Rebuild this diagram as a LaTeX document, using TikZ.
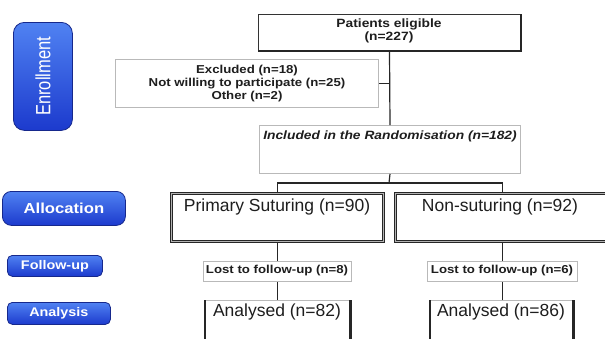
\documentclass[tikz,border=0pt]{standalone}
\usepackage{fontspec}
\usepackage{graphicx}
\setmainfont{Liberation Sans}
\newfontfamily\wf[FakeStretch=1.15]{Liberation Sans}
\definecolor{blueTop}{RGB}{80,130,242}
\definecolor{blueBot}{RGB}{28,58,205}
\definecolor{blueEdge}{RGB}{22,40,140}
\definecolor{txt}{RGB}{30,30,30}
\begin{document}
\begin{tikzpicture}[x=1pt,y=-1pt,
  conn/.style={draw=black!85,line width=1.2pt},
  lbl/.style={draw=blueEdge,line width=0.8pt,rounded corners=7pt,top color=blueTop,bottom color=blueBot,text=white,inner sep=0pt,anchor=north west},
  thinbox/.style={draw=gray!55,line width=1pt,fill=white,inner sep=0pt,anchor=north west},
  dblbox/.style={draw=black!85,double=gray!60,double distance=1.6pt,line width=0.9pt,fill=white,inner sep=0pt,anchor=north west},
  plainbox/.style={inner sep=0pt,anchor=north west},
  smalltxt/.style={font=\wf\bfseries\fontsize{11.5}{13}\selectfont,text=txt,align=center,inner sep=0pt},
  bigtxt/.style={font=\fontsize{17.5}{20}\selectfont,text=txt,inner sep=0pt}
]
\useasboundingbox (0,0) rectangle (605,338);
\clip (0,0) rectangle (605,338);
\fill[white] (0,0) rectangle (605,338);

% left phase labels
\node[lbl,minimum width=59pt,minimum height=108pt,rounded corners=11pt] (enr) at (13,22)
  {\rotatebox{90}{\scalebox{1}[1.25]{\fontsize{16.5}{18}\selectfont Enrollment}}};
\node[lbl,minimum width=123pt,minimum height=34pt,rounded corners=9pt,font=\wf\bfseries\fontsize{14.5}{16}\selectfont] (alloc) at (2,191) {Allocation};
\node[lbl,minimum width=95pt,minimum height=21pt,rounded corners=5pt,font=\wf\bfseries\fontsize{12.5}{14}\selectfont] (fup) at (7,255) {Follow-up};
\node[lbl,minimum width=103pt,minimum height=22pt,rounded corners=5pt,font=\wf\bfseries\fontsize{12.5}{14}\selectfont] (ana) at (7,302) {Analysis};

% boxes
\node[plainbox,draw=black!80,line width=1pt,fill=white,minimum width=262pt,minimum height=36pt] (elig) at (258,14) {};
\draw[black!85,line width=2pt] (elig.north east) -- (elig.south east) -- (elig.south west);
\node[smalltxt,font=\wf\bfseries\fontsize{12}{13.5}\selectfont] (eligt) at (389,31) {Patients eligible\\(n=227)};

\node[thinbox,minimum width=263pt,minimum height=48pt] (excl) at (115,59) {};
\node[smalltxt] (exclt) at (247,84) {Excluded (n=18)\\Not willing to participate (n=25)\\Other (n=2)};

\node[thinbox,minimum width=261pt,minimum height=48pt] (incl) at (259,125) {};
\node[smalltxt,font=\wf\bfseries\itshape\fontsize{12}{14}\selectfont] (inclt) at (390,136) {Included in the Randomisation (n=182)};

\node[dblbox,minimum width=212pt,minimum height=48pt] (prim) at (171,193) {};
\node[bigtxt] (primt) at (277,207) {Primary Suturing (n=90)};

\node[dblbox,minimum width=212pt,minimum height=48pt] (nons) at (395,193) {};
\node[bigtxt] (nonst) at (500,207) {Non-suturing (n=92)};

\node[thinbox,minimum width=148pt,minimum height=20pt] (lost1) at (203,261) {};
\node[smalltxt] (lost1t) at (277,271) {Lost to follow-up (n=8)};
\node[thinbox,minimum width=150pt,minimum height=20pt] (lost2) at (427,261) {};
\node[smalltxt] (lost2t) at (502,271) {Lost to follow-up (n=6)};

\node[plainbox,fill=white,minimum width=145pt,minimum height=50pt] (an1) at (205,300) {};
\draw[gray!55,line width=1pt] (an1.north west) -- (an1.north east);
\draw[black!85,line width=2.2pt] (an1.north west) -- (an1.south west) (an1.north east) -- (an1.south east);
\node[bigtxt] (an1t) at (277,312) {Analysed (n=82)};

\node[plainbox,fill=white,minimum width=143pt,minimum height=50pt] (an2) at (430,300) {};
\draw[gray!55,line width=1pt] (an2.north west) -- (an2.north east);
\draw[black!85,line width=2.2pt] (an2.north west) -- (an2.south west) (an2.north east) -- (an2.south east);
\node[bigtxt] (an2t) at (501,312) {Analysed (n=86)};

% connectors
\coordinate (split) at (389,183);
\draw[conn] (elig.south) -- (incl.north);
\draw[conn] (excl.east) -- (excl.east -| elig.south);
\draw[conn] (incl.south) -- (split);
\draw[conn] (prim.north -| lost1.north) -- (split -| lost1.north) -- (split -| lost2.north) -- (nons.north -| lost2.north);
\draw[conn] (prim.south -| lost1.north) -- (lost1.north);
\draw[conn] (lost1.south) -- (lost1.south |- an1.north);
\draw[conn] (nons.south -| lost2.north) -- (lost2.north);
\draw[conn] (lost2.south) -- (lost2.south |- an2.north);
\end{tikzpicture}
\end{document}
